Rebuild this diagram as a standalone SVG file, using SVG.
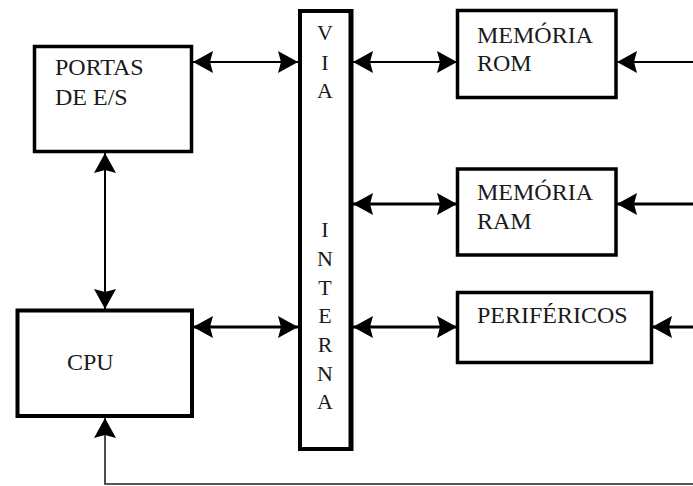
<svg xmlns="http://www.w3.org/2000/svg" width="693" height="486" viewBox="0 0 693 486">
<style>
.box{fill:#fff;stroke:#000;stroke-width:3.5}
.lbl{font-family:'Liberation Serif','Tinos','DejaVu Serif','Times New Roman',serif;font-size:24px;fill:#1a1a1a}
.v{font-family:'Liberation Serif','Tinos','DejaVu Serif','Times New Roman',serif;font-size:22px;fill:#1a1a1a;text-anchor:middle}
.thin{fill:none;stroke:#000;stroke-width:2}
.thick{fill:none;stroke:#000;stroke-width:3}
.base{fill:none;stroke:#222;stroke-width:1.6}
</style>
<defs>
<marker id="ah" markerUnits="userSpaceOnUse" markerWidth="20" markerHeight="22" refX="20" refY="11" orient="auto-start-reverse" viewBox="0 0 20 22">
<path d="M0,0 L20,11 L0,22 L3,11 z" fill="#000"/>
</marker>
</defs>
<rect width="693" height="486" fill="#fff"/>
<g id="portas">
<rect class="box" x="34.5" y="46.5" width="157" height="105"/>
<text class="lbl" x="55" y="75">PORTAS</text>
<text class="lbl" x="55" y="105">DE E/S</text>
</g>
<g id="cpu">
<rect class="box" x="17.5" y="310.5" width="174.5" height="105.5" style="stroke-width:4"/>
<text class="lbl" x="67" y="370">CPU</text>
</g>
<g id="via">
<rect x="300" y="11" width="51" height="438" fill="#fff" stroke="#000" stroke-width="4"/>
<line x1="351" y1="9" x2="351" y2="451" stroke="#000" stroke-width="5"/>
<text class="v" x="325" y="40">V</text>
<text class="v" x="325" y="70">I</text>
<text class="v" x="325" y="98">A</text>
<text class="v" x="325" y="237">I</text>
<text class="v" x="325" y="266">N</text>
<text class="v" x="325" y="295">T</text>
<text class="v" x="325" y="323">E</text>
<text class="v" x="325" y="352">R</text>
<text class="v" x="325" y="381">N</text>
<text class="v" x="325" y="409">A</text>
</g>
<g id="rom">
<rect class="box" x="457.5" y="10.5" width="158.5" height="87"/>
<text class="lbl" x="477" y="43">MEMÓRIA</text>
<text class="lbl" x="477" y="71">ROM</text>
</g>
<g id="ram">
<rect class="box" x="457.5" y="169" width="158.5" height="86"/>
<text class="lbl" x="477" y="200">MEMÓRIA</text>
<text class="lbl" x="477" y="229">RAM</text>
</g>
<g id="perifericos">
<rect class="box" x="457.5" y="292.5" width="194" height="70"/>
<text class="lbl" x="477" y="323">PERIFÉRICOS</text>
</g>
<g id="connectors">
<line class="thin" x1="193" y1="62" x2="298" y2="62" marker-start="url(#ah)" marker-end="url(#ah)"/>
<line class="thin" x1="353" y1="62" x2="457" y2="62" marker-start="url(#ah)" marker-end="url(#ah)"/>
<line class="thin" x1="693" y1="62" x2="617" y2="62" marker-end="url(#ah)"/>
<line class="thick" x1="353" y1="204" x2="457" y2="204" marker-start="url(#ah)" marker-end="url(#ah)"/>
<line class="thick" x1="693" y1="204" x2="617" y2="204" marker-end="url(#ah)"/>
<line class="thick" x1="353" y1="327" x2="457" y2="327" marker-start="url(#ah)" marker-end="url(#ah)"/>
<line class="thick" x1="693" y1="327" x2="652" y2="327" marker-end="url(#ah)"/>
<line class="thick" x1="193" y1="327" x2="298" y2="327" marker-start="url(#ah)" marker-end="url(#ah)"/>
<line class="thin" x1="105" y1="153" x2="105" y2="309" marker-start="url(#ah)" marker-end="url(#ah)"/>
<polyline class="base" points="693,484 105,484 105,418" marker-end="url(#ah)"/>
</g>
</svg>
